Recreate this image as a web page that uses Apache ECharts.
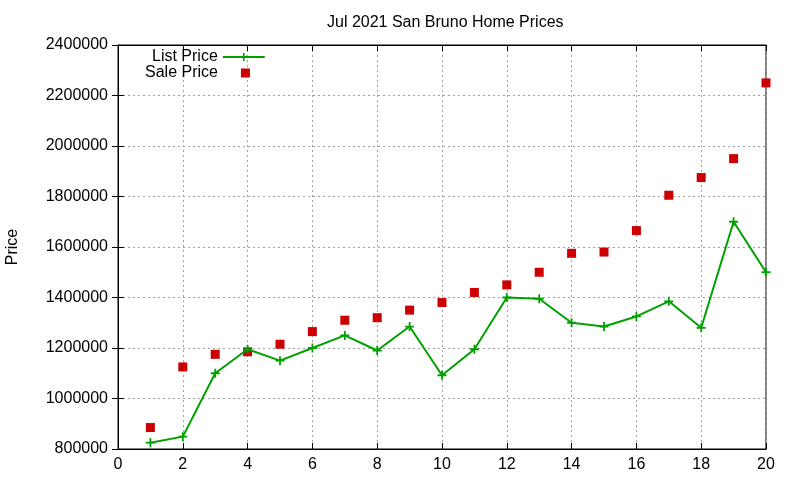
<!DOCTYPE html>
<html>
<head>
<meta charset="utf-8">
<script src="https://cdn.jsdelivr.net/npm/echarts@6/dist/echarts.min.js"></script>
<style>html,body{margin:0;padding:0;background:#fff;}#c{width:800px;height:480px;}</style>
</head>
<body>
<div id="c"></div>
<script>
const months = [1,2,3,4,5,6,7,8,9,10,11,12,13,14,15,16,17,18,19,20];
const listPrice = [825000,849000,1100000,1195000,1150000,1200000,1250000,1190000,1285000,1092000,1195000,1400000,1395000,1300000,1285000,1325000,1385000,1280000,1700000,1500000];
const salePrice = [885000,1125000,1175000,1185000,1215000,1265000,1310000,1320000,1350000,1380000,1420000,1450000,1500000,1575000,1580000,1665000,1805000,1875000,1950000,2250000];
const xTicks = {min:0, max:20, interval:2};
const yTicks = {min:800000, max:2400000, interval:200000};

const FONT = 'Liberation Sans, Arial, sans-serif';
const plusPath = 'path://M4,0 H6 V4 H10 V6 H6 V10 H4 V6 H0 V4 H4 Z';
const green = '#00a000';
const red = '#cc0000';
const grid = {left:118, right:34, top:45, bottom:31, show:true, borderColor:'#000', borderWidth:1,
  backgroundColor:'transparent', containLabel:false, outerBoundsMode:'none'};
const splitStyle = {show:true, lineStyle:{color:'#a0a0a0', type:[2,3], width:1}};

const chart = echarts.init(document.getElementById('c'), null, {renderer:'canvas'});
chart.setOption({
  animation:false,
  backgroundColor:'#fff',
  title:{text:'Jul 2021 San Bruno Home Prices', left:322, top:10,
    textStyle:{fontFamily:FONT, fontSize:16, fontWeight:'normal', color:'#000'}},
  grid:grid,
  legend:[
    {data:['List Price'], orient:'vertical', left:147, top:44, align:'right', itemWidth:42, itemHeight:10,
      textStyle:{fontFamily:FONT, fontSize:16, color:'#000'}},
    {data:['Sale Price'], orient:'vertical', left:140, top:60, align:'right', itemWidth:9, itemHeight:9,
      icon:'rect', itemStyle:{opacity:1},
      textStyle:{fontFamily:FONT, fontSize:16, color:'#000', padding:[0,18,0,0]}}
  ],
  xAxis:[
    {type:'value', min:xTicks.min, max:xTicks.max, interval:xTicks.interval,
      axisLine:{show:true, lineStyle:{color:'#000'}}, axisTick:{show:true, inside:true, length:6, lineStyle:{color:'#000'}},
      axisLabel:{color:'#000', fontFamily:FONT, fontSize:16, margin:8}, splitLine:splitStyle},
    {type:'value', position:'top', min:xTicks.min, max:xTicks.max, interval:xTicks.interval,
      axisLine:{show:true, lineStyle:{color:'#000'}}, axisTick:{show:true, inside:true, length:6, lineStyle:{color:'#000'}},
      axisLabel:{show:false}, splitLine:{show:false}}
  ],
  yAxis:[
    {type:'value', min:yTicks.min, max:yTicks.max, interval:yTicks.interval,
      name:'Price', nameLocation:'middle', nameGap:97, nameRotate:90,
      nameTextStyle:{fontFamily:FONT, fontSize:16, color:'#000'},
      axisLine:{show:true, lineStyle:{color:'#000'}}, axisTick:{show:true, inside:true, length:6, lineStyle:{color:'#000'}},
      axisLabel:{color:'#000', fontFamily:FONT, fontSize:16, margin:10, formatter:v=>String(v)}, splitLine:splitStyle},
    {type:'value', position:'right', min:yTicks.min, max:yTicks.max, interval:yTicks.interval,
      axisLine:{show:true, lineStyle:{color:'#000'}}, axisTick:{show:true, inside:true, length:6, lineStyle:{color:'#000'}},
      axisLabel:{show:false}, splitLine:{show:false}}
  ],
  series:[
    {name:'List Price', type:'line', xAxisIndex:0, yAxisIndex:0,
      data:months.map((m,i)=>[m, listPrice[i]]),
      symbol:plusPath, symbolSize:9, showAllSymbol:true,
      lineStyle:{color:green, width:2}, itemStyle:{color:green}},
    {name:'Sale Price', type:'scatter', xAxisIndex:0, yAxisIndex:0,
      data:months.map((m,i)=>[m, salePrice[i]]),
      symbol:'rect', symbolSize:9, itemStyle:{color:red, opacity:1}}
  ]
});
</script>
</body>
</html>
